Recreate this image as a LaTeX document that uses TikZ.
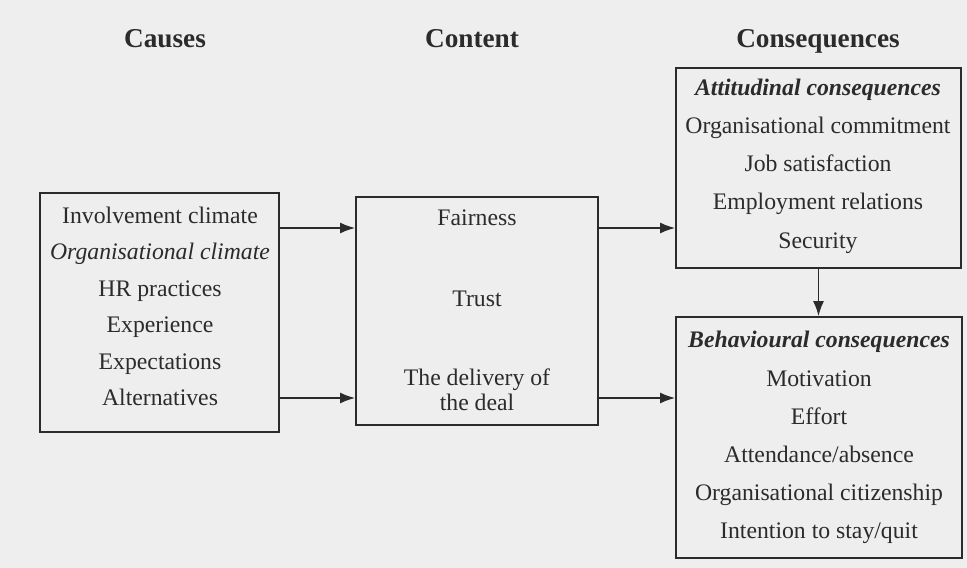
\documentclass[tikz,border=0pt]{standalone}
\usepackage{fontspec}
\setmainfont{Liberation Serif}
\usetikzlibrary{arrows.meta}
\definecolor{ink}{gray}{0.17}
\definecolor{paper}{gray}{0.935}
\tikzset{
    box/.style={draw=ink, line width=1pt},
    lbl/.style={text=ink, font=\fontsize{13.5}{15.5}\selectfont, inner sep=0pt, anchor=base},
    head/.style={text=ink, font=\fontsize{15.5}{18}\selectfont\bfseries, inner sep=0pt, anchor=base},
    arr/.style={draw=ink, line width=1pt, -{Latex[length=3mm,width=2.2mm]}},
}
\begin{document}
\begin{tikzpicture}[x=0.02cm, y=-0.02cm]
    \fill[paper] (0,0) rectangle (967,568);
    \useasboundingbox (0,0) rectangle (967,568);

    % Spaltenkoepfe
    \node[head] (hcauses) at (165,47.5) {Causes};
    \node[head] (hcontent) at (472,47.5) {Content};
    \node[head] (hconseq) at (818,47.5) {Consequences};

    % Kaesten
    \node[box, minimum width=4.78cm, minimum height=4.78cm] (causes) at (159.5,312.5) {};
    \node[box, minimum width=4.84cm, minimum height=4.56cm] (content) at (477,311) {};
    \node[box, minimum width=5.7cm, minimum height=4cm] (attit) at (818.5,168) {};
    \node[box, minimum width=5.72cm, minimum height=4.82cm] (behav) at (819,437.5) {};

    % Ursachen
    \foreach \t [count=\i] in {Involvement climate, \textit{Organisational climate}, HR practices, Experience, Expectations, Alternatives} {
        \node[lbl] (cause\i) at (160, {186.5+36.5*\i}) {\t};
    }

    % Inhalt
    \node[lbl] (fair) at (477,225) {Fairness};
    \node[lbl] (trust) at (477,306.5) {Trust};
    \node[lbl] (deal1) at (477,385) {The delivery of};
    \node[lbl] (deal2) at (477,410) {the deal};

    % Folgen
    \node[lbl] (atttitle) at (818,95) {\textbf{\textit{Attitudinal consequences}}};
    \foreach \t [count=\i] in {Organisational commitment, Job satisfaction, Employment relations, Security} {
        \node[lbl] (att\i) at (818, {95+38.3*\i}) {\t};
    }
    \node[lbl] (behtitle) at (819,347) {\textbf{\textit{Behavioural consequences}}};
    \foreach \t [count=\i] in {Motivation, Effort, Attendance/absence, Organisational citizenship, Intention to stay/quit} {
        \node[lbl] (beh\i) at (819, {348+38*\i}) {\t};
    }

    % Pfeile
    \coordinate (upper) at (0,228);
    \coordinate (lower) at (0,398);
    \draw[arr] (causes.east |- upper) -- (content.west |- upper);
    \draw[arr] (causes.east |- lower) -- (content.west |- lower);
    \draw[arr] (content.east |- upper) -- (attit.west |- upper);
    \draw[arr] (content.east |- lower) -- (behav.west |- lower);
    \draw[arr] (attit.south) -- (attit.south |- behav.north);
\end{tikzpicture}
\end{document}
